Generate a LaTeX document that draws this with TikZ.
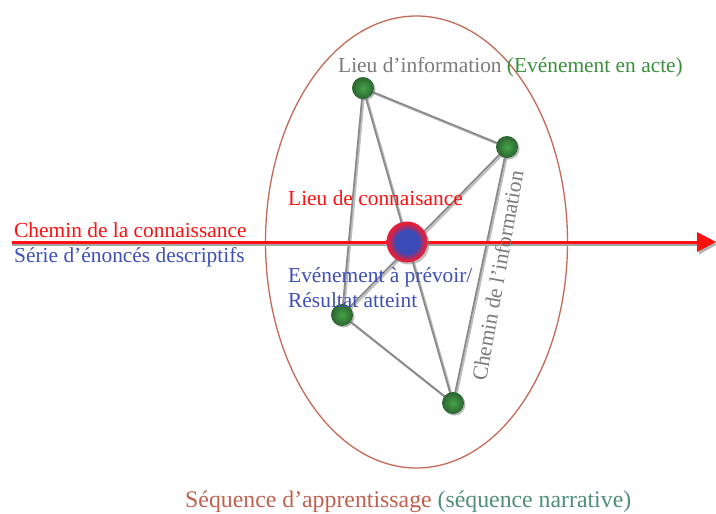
\documentclass[tikz,border=0pt]{standalone}
\usepackage{fontspec}
\setmainfont{Liberation Serif}
\usetikzlibrary{shadows,backgrounds}
\definecolor{txtgray}{HTML}{7A7A7A}
\definecolor{txtgreen}{HTML}{3A8F3C}
\definecolor{txtred}{HTML}{FF1010}
\definecolor{txtblue}{HTML}{3E4FB6}
\definecolor{ellcol}{HTML}{C46A58}
\definecolor{seqbrown}{HTML}{C0604E}
\definecolor{seqteal}{HTML}{4E8F76}
\definecolor{edgecol}{HTML}{8A8A8A}
\definecolor{dotin}{HTML}{45A347}
\definecolor{dotout}{HTML}{2C6430}
\definecolor{ballblue}{HTML}{3A4BB8}
\definecolor{ballred}{HTML}{E61E3A}
\pgfdeclareradialshading{hubshade}{\pgfpoint{0bp}{0bp}}{%
  color(0bp)=(ballblue); color(14bp)=(ballblue); color(19bp)=(ballred!60!ballblue);
  color(23bp)=(ballred); color(25bp)=(ballred); color(50bp)=(ballred)}
\tikzset{
  lbl/.style={font=\fontsize{21.4}{25}\selectfont, inner sep=0pt, anchor=base west},
  biglbl/.style={font=\fontsize{23.8}{28}\selectfont, inner sep=0pt, anchor=base west},
  gdot/.style={circle, minimum size=22pt, inner sep=0pt, inner color=dotin, outer color=dotout,
    drop shadow={shadow xshift=1.5pt, shadow yshift=-1.5pt, opacity=0.55}},
  hub/.style={circle, minimum size=41pt, inner sep=0pt, shading=hubshade,
    drop shadow={shadow xshift=2pt, shadow yshift=-2pt, opacity=0.5}},
  edge/.style={draw=edgecol, line width=1.8pt},
  edgeshadow/.style={draw=black!25, line width=2pt},
}
\begin{document}
\begin{tikzpicture}[x=1pt,y=-1pt]
\useasboundingbox (0,0) rectangle (716,514);
% nodes
\node[gdot] (A) at (363,88) {};
\node[gdot] (B) at (507,147) {};
\node[gdot] (C) at (342,315) {};
\node[gdot] (D) at (453,403) {};
\coordinate (S) at (12,242);
\coordinate (T) at (716,242);
\node[hub] (E) at (407,242) {};
\begin{pgfonlayer}{background}
  \draw[ellcol, line width=1.3pt] (416.5,242) ellipse [x radius=151pt, y radius=226pt];
  \foreach \u/\v in {A/B,A/C,A/D,B/C,B/D,C/D}{
    \draw[edgeshadow] ([xshift=1.5pt,yshift=-1.5pt]\u.center) -- ([xshift=1.5pt,yshift=-1.5pt]\v.center);
    \draw[edge] (\u.center) -- (\v.center);
  }
  \draw[black!35, line width=3pt] ([yshift=-2.5pt]S) -- ([xshift=-17pt,yshift=-2.5pt]T);
  \fill[black!30] ([xshift=-17pt,yshift=-12.5pt]T) -- ([xshift=1pt,yshift=-2.5pt]T) -- ([xshift=-17pt,yshift=7.5pt]T) -- cycle;
  \draw[txtred, line width=3pt] (S) -- ([xshift=-17pt]T);
  \fill[txtred] ([xshift=-19pt,yshift=-10pt]T) -- (T) -- ([xshift=-19pt,yshift=10pt]T) -- cycle;
\end{pgfonlayer}
% labels
\node[lbl] (l1) at (338,72) {\textcolor{txtgray}{Lieu d’information} \textcolor{txtgreen}{(Evénement en acte)}};
\node[lbl, txtred] (l2) at (14,237) {Chemin de la connaissance};
\node[lbl, txtblue] (l3) at (14,262) {Série d’énoncés descriptifs};
\node[lbl, txtred] (l4) at (288,205) {Lieu de connaisance};
\node[lbl, txtblue] (l5) at (288,282) {Evénement à prévoir/};
\node[lbl, txtblue] (l6) at (288,307) {Résultat atteint};
\node[lbl, txtgray, rotate=79.8] (l7) at (486,382) {Chemin de l’information};
\node[biglbl] (l8) at (185,507) {\textcolor{seqbrown}{Séquence d’apprentissage} \textcolor{seqteal}{(séquence narrative)}};
\end{tikzpicture}
\end{document}
